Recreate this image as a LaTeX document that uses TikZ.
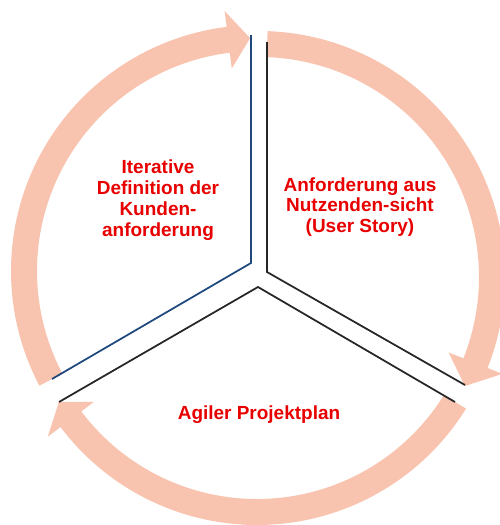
\documentclass[tikz,border=0pt]{standalone}
\usepackage{fontspec}
\setmainfont{Liberation Sans}
\definecolor{ringfill}{RGB}{248,196,176}
\definecolor{textred}{RGB}{232,0,0}
\definecolor{lineblue}{RGB}{31,73,125}

\begin{document}
\begin{tikzpicture}[x = 0.02cm, y = 0.02cm,
  arrowring/.style = {fill = ringfill},
  sectorline/.style = {line width = 1pt, line join = miter},
  redtext/.style = {text = textred, align = center,
    font = \fontsize{10.8}{11.9}\selectfont\bfseries}]
\useasboundingbox (-257, -246) rectangle (243, 279);
% three curved arrows: centre, tail angle, head base angle, tip angle
\foreach \cx/\cy/\a/\b/\t in {0/8/207.8/97.1/91.7, 2/2/88/-21.7/-27.9, 0/0/-31.8/-143/-148.2} {
  \begin{scope}[shift = {(\cx, \cy)}]
    \fill[arrowring] (\a:246) arc[start angle = \a, end angle = \b, radius = 246]
      -- (\b:262) -- (\t:233) -- (\b:204) -- (\b:220)
      arc[start angle = \b, end angle = \a, radius = 220] -- cycle;
  \end{scope}
}
% sector borders
\draw[sectorline, lineblue] (-6, 244) -- (-6, 16) -- (-205, -100);
\draw[sectorline, black!85] (10, 237) -- (10, 7) -- (208, -106);
\draw[sectorline, black!85] (-198, -123) -- (1, -8) -- (198, -123);
% texts
\node[redtext] (iterativ) at (-99, 79) {Iterative\\Definition der\\Kunden-\\anforderung};
\node[redtext] (nutzen) at (103, 72) {Anforderung aus\\Nutzenden-sicht\\(User Story)};
\node[redtext] (projektplan) at (2, -136) {Agiler Projektplan};
\end{tikzpicture}
\end{document}
